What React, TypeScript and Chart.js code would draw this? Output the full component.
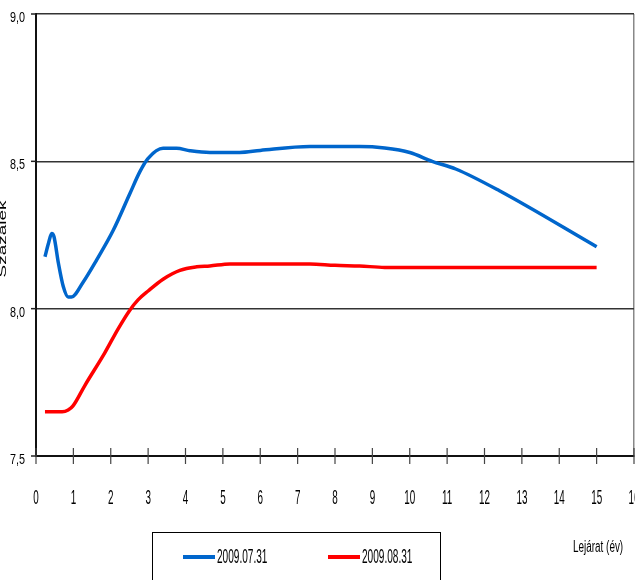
import { useEffect, useRef } from 'react';
import { Chart, registerables } from 'chart.js';

Chart.register(...registerables);

// Maturity (years) and yield (%)
const maturities0731 = [0.24, 0.33, 0.42, 0.48, 0.6, 0.73, 0.86, 0.95, 1.26, 1.62, 2.07, 2.51, 2.78, 3.0, 3.4, 3.76, 4.12, 4.65, 5.45, 6.0, 7.33, 8.66, 9.33, 10.0, 10.6, 11.23, 12.4, 15.0];
const yields0731 = [8.176, 8.22, 8.255, 8.245, 8.154, 8.075, 8.04, 8.04, 8.09, 8.165, 8.267, 8.39, 8.465, 8.51, 8.544, 8.544, 8.536, 8.53, 8.53, 8.537, 8.55, 8.55, 8.545, 8.53, 8.5, 8.474, 8.4, 8.21];

const maturities0831 = [0.24, 0.7, 0.86, 0.99, 1.31, 1.84, 2.19, 2.51, 2.73, 3.0, 3.4, 3.85, 4.3, 4.65, 5.19, 7.33, 8.0, 8.66, 9.33, 10.0, 15.0];
const yields0831 = [7.65, 7.65, 7.656, 7.67, 7.74, 7.85, 7.93, 7.995, 8.03, 8.06, 8.1, 8.13, 8.142, 8.145, 8.152, 8.152, 8.147, 8.145, 8.14, 8.14, 8.14];

const seriesLabels = ['2009.07.31', '2009.08.31'];
const seriesColors = ['#0066CC', '#FF0000'];

const xTickValues = [0, 1, 2, 3, 4, 5, 6, 7, 8, 9, 10, 11, 12, 13, 14, 15, 16];
const yTickValues = [7.5, 8.0, 8.5, 9.0];
const yTickLabels = ['7,5', '8,0', '8,5', '9,0'];

const xAxisTitle = 'Lejárat (év)';
const yAxisTitle = 'Százalék';

const FONT = '"Liberation Sans", Arial, sans-serif';

function squeezedText(
  ctx: CanvasRenderingContext2D,
  text: string,
  x: number,
  y: number,
  size: number,
  sx: number,
  align: CanvasTextAlign
) {
  ctx.save();
  ctx.translate(x, y);
  ctx.scale(sx, 1);
  ctx.font = `${size}px ${FONT}`;
  ctx.fillStyle = '#000';
  ctx.textAlign = align;
  ctx.textBaseline = 'middle';
  ctx.fillText(text, 0, 0);
  ctx.restore();
}

const decorPlugin = {
  id: 'decor',
  afterDraw(chart: any) {
    const ctx: CanvasRenderingContext2D = chart.ctx;
    const xs = chart.scales.x;
    const ys = chart.scales.y;
    const area = chart.chartArea;
    ctx.save();

    // y tick marks and labels
    yTickValues.forEach((v, i) => {
      const py = ys.getPixelForValue(v);
      ctx.strokeStyle = '#222';
      ctx.lineWidth = 1.5;
      ctx.beginPath();
      ctx.moveTo(area.left - 5, py);
      ctx.lineTo(area.left, py);
      ctx.stroke();
      squeezedText(ctx, yTickLabels[i], area.left - 11, py + 4, 15, 0.72, 'right');
    });

    // x tick marks and labels
    xTickValues.forEach((v) => {
      const px = xs.getPixelForValue(v);
      ctx.strokeStyle = '#444';
      ctx.lineWidth = 1.2;
      ctx.beginPath();
      ctx.moveTo(px, area.bottom - 8);
      ctx.lineTo(px, area.bottom + 8);
      ctx.stroke();
      squeezedText(ctx, String(v), px, area.bottom + 42, 21, 0.47, 'center');
    });

    // x axis title
    squeezedText(ctx, xAxisTitle, 573, 548, 16, 0.62, 'left');

    // y axis title (rotated)
    ctx.save();
    ctx.translate(6, 239);
    ctx.rotate(-Math.PI / 2);
    ctx.scale(1, 0.55);
    ctx.font = `19px ${FONT}`;
    ctx.fillStyle = '#000';
    ctx.textAlign = 'center';
    ctx.textBaseline = 'alphabetic';
    ctx.fillText(yAxisTitle, 0, 0);
    ctx.restore();

    // legend box
    ctx.strokeStyle = '#000';
    ctx.lineWidth = 1;
    ctx.strokeRect(152.5, 532.5, 288, 100);
    chart.data.datasets.forEach((ds: any, i: number) => {
      const x0 = 183 + i * 145;
      ctx.strokeStyle = ds.borderColor;
      ctx.lineWidth = 4;
      ctx.beginPath();
      ctx.moveTo(x0, 557);
      ctx.lineTo(x0 + 32, 557);
      ctx.stroke();
      squeezedText(ctx, ds.label, x0 + 34, 557.5, 21, 0.48, 'left');
    });

    ctx.restore();
  },
};

export default function App() {
  const canvasRef = useRef<HTMLCanvasElement | null>(null);

  useEffect(() => {
    if (!canvasRef.current) return;
    const chart = new Chart(canvasRef.current, {
      type: 'line',
      data: {
        datasets: [
          {
            label: seriesLabels[0],
            data: maturities0731.map((m, i) => ({ x: m, y: yields0731[i] })),
            borderColor: seriesColors[0],
            backgroundColor: seriesColors[0],
            borderWidth: 3.5,
            pointRadius: 0,
            cubicInterpolationMode: 'monotone',
            fill: false,
          },
          {
            label: seriesLabels[1],
            data: maturities0831.map((m, i) => ({ x: m, y: yields0831[i] })),
            borderColor: seriesColors[1],
            backgroundColor: seriesColors[1],
            borderWidth: 3.5,
            pointRadius: 0,
            cubicInterpolationMode: 'monotone',
            fill: false,
          },
        ],
      },
      options: {
        animation: false,
        responsive: true,
        maintainAspectRatio: false,
        layout: { padding: { left: 36, right: 1, top: 14, bottom: 124 } },
        plugins: {
          legend: { display: false },
          tooltip: { enabled: false },
        },
        scales: {
          x: {
            type: 'linear',
            min: 0,
            max: 16,
            ticks: { display: false, stepSize: 1 },
            grid: {
              drawTicks: false,
              lineWidth: 1.5,
              color: (c: any) => (c.tick && c.tick.value === 16 ? '#888' : 'rgba(0,0,0,0)'),
            },
            border: { display: true, color: '#111', width: 2 },
          },
          y: {
            type: 'linear',
            min: 7.5,
            max: 9.0,
            ticks: { display: false, stepSize: 0.5 },
            grid: { drawTicks: false, lineWidth: 1.5, color: '#333' },
            border: { display: true, color: '#111', width: 2 },
          },
        },
      },
      plugins: [decorPlugin],
    } as any);
    return () => chart.destroy();
  }, []);

  return (
    <div style={{ position: 'fixed', left: 0, top: 0, width: 635, height: 580, background: '#fff' }}>
      <canvas ref={canvasRef} />
    </div>
  );
}
